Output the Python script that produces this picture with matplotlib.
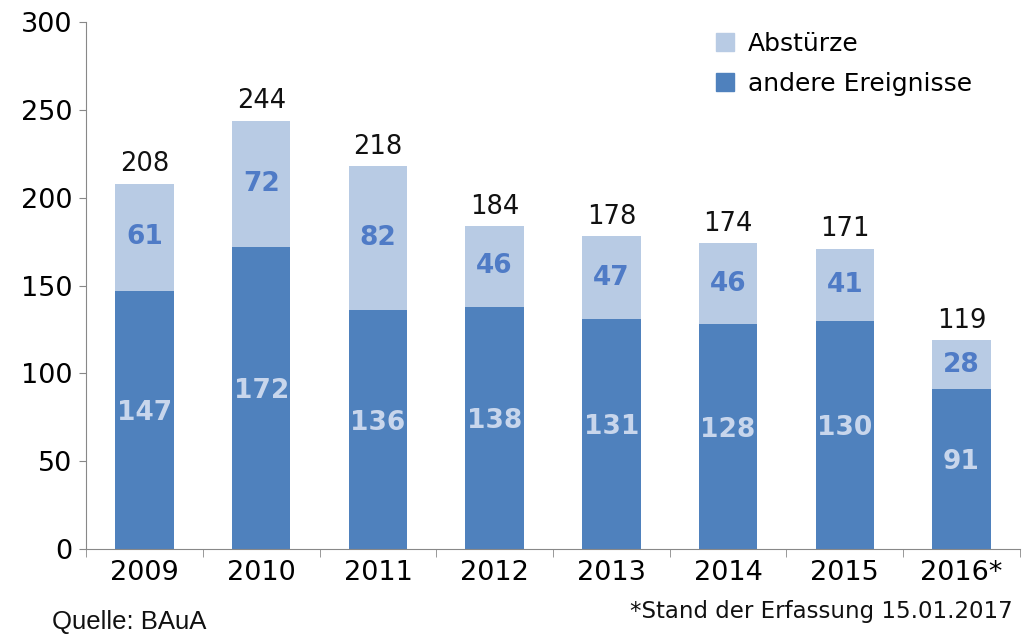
import matplotlib
matplotlib.use("Agg")
import matplotlib.pyplot as plt
from matplotlib.patches import Patch

years = ["2009", "2010", "2011", "2012", "2013", "2014", "2015", "2016*"]
andere = [147, 172, 136, 138, 131, 128, 130, 91]
abstuerze = [61, 72, 82, 46, 47, 46, 41, 28]
totals = [208, 244, 218, 184, 178, 174, 171, 119]

c_light = "#b8cbe4"
c_dark = "#4f81bd"
txt_light = "#4f7bc6"
txt_dark = "#c8d6ec"

plt.rcParams["font.family"] = ["DejaVu Sans"]

fig = plt.figure(figsize=(10.26, 6.34), dpi=100)
ax = fig.add_axes([0.084, 0.134, 0.91, 0.831])

x = list(range(len(years)))
ax.bar(x, andere, width=0.5, color=c_dark, label="andere Ereignisse")
ax.bar(x, abstuerze, width=0.5, bottom=andere, color=c_light, label="Abstürze")

for i in x:
    ax.text(i, andere[i] / 2 + 4, str(andere[i]), ha="center", va="center",
            fontsize=19, fontweight="bold", color=txt_dark)
    ax.text(i, andere[i] + abstuerze[i] / 2, str(abstuerze[i]), ha="center",
            va="center", fontsize=19, fontweight="bold", color=txt_light)
    ax.text(i, totals[i] + 11, str(totals[i]), ha="center", va="center",
            fontsize=18.5, color="#111111")

ax.set_xlim(-0.5, len(years) - 0.5)
ax.set_ylim(0, 300)
ax.set_yticks(range(0, 301, 50))
ax.tick_params(axis="y", labelsize=19.5, length=5, color="#888888", pad=5)
ax.set_xticks(x)
ax.set_xticklabels(years, fontsize=19.5)
ax.tick_params(axis="x", length=0, pad=8)
# tick marks between categories
ax.set_xticks([i + 0.5 for i in range(-1, len(years))], minor=True)
ax.tick_params(axis="x", which="minor", length=6, color="#888888")

for s in ["top", "right"]:
    ax.spines[s].set_visible(False)
ax.spines["left"].set_color("#888888")
ax.spines["bottom"].set_color("#888888")

handles = [Patch(color=c_light, label="Abstürze"),
           Patch(color=c_dark, label="andere Ereignisse")]
ax.legend(handles=handles, loc="upper left", bbox_to_anchor=(0.65, 1.025),
          frameon=False, fontsize=18, handlelength=0.75, handleheight=0.75,
          handletextpad=0.55, labelspacing=0.65)

fig.text(0.051, 0.008, "Quelle: BAuA", fontsize=18.5, family="Liberation Sans",
         color="#111111")
fig.text(0.987, 0.025, "*Stand der Erfassung 15.01.2017", fontsize=16.5,
         ha="right", color="#111111")

fig.savefig("out.png", dpi=100)
